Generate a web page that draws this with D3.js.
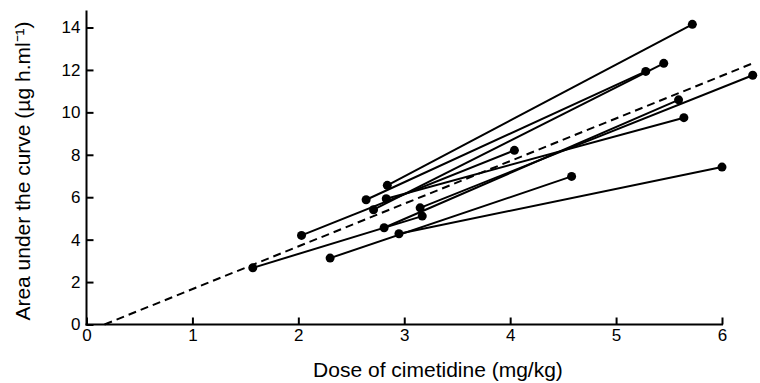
<!DOCTYPE html>
<head>
    <title>Cimetidine dose vs AUC</title>
    <script type="text/javascript" src="https://d3js.org/d3.v7.min.js"></script>
    <style>
        body { margin: 0; background: #fff; }
        text { font-family: "Liberation Sans", Arial, sans-serif; fill: #000; }
    </style>
</head>
<body>
    <div id="div-svg"></div>

    <script type="text/javascript">
        // Each subject got a low and a high dose (high is about twice the low)
        let lowDose = [1.57, 2.03, 2.30, 2.64, 2.71, 2.81, 2.83, 2.84, 2.95, 3.15];
        let lowAuc = [2.67, 4.20, 3.13, 5.88, 5.41, 4.56, 5.93, 6.56, 4.28, 5.50];
        let highDose = [3.17, 4.04, 4.58, 5.28, 5.45, 5.59, 5.64, 5.72, 6.00, 6.29];
        let highAuc = [5.11, 8.21, 6.98, 11.93, 12.31, 10.59, 9.75, 14.15, 7.42, 11.75];

        // dashed fitted line, end points
        let fitDose = [0.17, 6.30];
        let fitAuc = [0, 12.33];

        let xTicks = [0, 1, 2, 3, 4, 5, 6];
        let yTicks = [0, 2, 4, 6, 8, 10, 12, 14];

        let width = 760;
        let height = 383;

        let svg = d3.select("#div-svg")
            .append("svg")
            .attr("id", "svg-1")
            .attr("width", width)
            .attr("height", height);

        // scales
        let xScale = d3.scaleLinear()
            .domain([0, 6])
            .range([86.5, 722]);

        let yScale = d3.scaleLinear()
            .domain([0, 14])
            .range([324.5, 27.5]);

        // axes, ticks point inward
        let xAxis = d3.axisBottom(xScale)
            .tickValues(xTicks)
            .tickFormat(d3.format("d"))
            .tickSizeInner(-7)
            .tickSizeOuter(0)
            .tickPadding(4);

        let yAxis = d3.axisLeft(yScale)
            .tickValues(yTicks)
            .tickFormat(d3.format("d"))
            .tickSizeInner(-7)
            .tickSizeOuter(0)
            .tickPadding(6);

        let gx = svg.append("g")
            .attr("transform", "translate(0," + yScale(0) + ")")
            .call(xAxis);

        let gy = svg.append("g")
            .attr("transform", "translate(" + xScale(0) + ",0)")
            .call(yAxis);

        [gx, gy].forEach(function (g) {
            g.select(".domain").remove();
            g.selectAll(".tick line").attr("stroke", "#000").attr("stroke-width", 2);
            g.selectAll(".tick text")
                .style("font-size", "17px")
                .style("font-family", "'Liberation Sans', Arial, sans-serif")
                .attr("fill", "#000");
        });

        // axis lines (y axis runs a little past 14)
        svg.append("line")
            .attr("x1", xScale(0)).attr("x2", xScale(0))
            .attr("y1", yScale(0) + 1).attr("y2", yScale(14.8))
            .attr("stroke", "#000").attr("stroke-width", 2);

        svg.append("line")
            .attr("x1", xScale(0) - 1).attr("x2", xScale(6) + 1)
            .attr("y1", yScale(0)).attr("y2", yScale(0))
            .attr("stroke", "#000").attr("stroke-width", 2);

        // dashed fitted line
        svg.append("line")
            .attr("x1", xScale(fitDose[0])).attr("y1", yScale(fitAuc[0]))
            .attr("x2", xScale(fitDose[1])).attr("y2", yScale(fitAuc[1]))
            .attr("stroke", "#000")
            .attr("stroke-width", 2)
            .attr("stroke-dasharray", "8,5");

        // subject lines
        let pairs = lowDose.map(function (d, i) {
            return { x1: d, y1: lowAuc[i], x2: highDose[i], y2: highAuc[i] };
        });

        svg.selectAll(".pair")
            .data(pairs)
            .enter()
            .append("line")
            .attr("class", "pair")
            .attr("x1", function (d) { return xScale(d.x1); })
            .attr("y1", function (d) { return yScale(d.y1); })
            .attr("x2", function (d) { return xScale(d.x2); })
            .attr("y2", function (d) { return yScale(d.y2); })
            .attr("stroke", "#000")
            .attr("stroke-width", 2);

        // points
        let points = [];
        pairs.forEach(function (p) {
            points.push([p.x1, p.y1]);
            points.push([p.x2, p.y2]);
        });

        svg.selectAll("circle")
            .data(points)
            .enter()
            .append("circle")
            .attr("cx", function (d) { return xScale(d[0]); })
            .attr("cy", function (d) { return yScale(d[1]); })
            .attr("r", 4.5)
            .attr("fill", "#000");

        // axis titles
        svg.append("text")
            .attr("transform", "rotate(-90)")
            .attr("x", -171)
            .attr("y", 30)
            .attr("font-size", 21)
            .style("text-anchor", "middle")
            .text("Area under the curve (\u00b5g h.ml\u207b\u00b9)");

        svg.append("text")
            .attr("x", 438)
            .attr("y", 377)
            .attr("font-size", 21)
            .style("text-anchor", "middle")
            .text("Dose of cimetidine (mg/kg)");
    </script>
</body>
</html>
